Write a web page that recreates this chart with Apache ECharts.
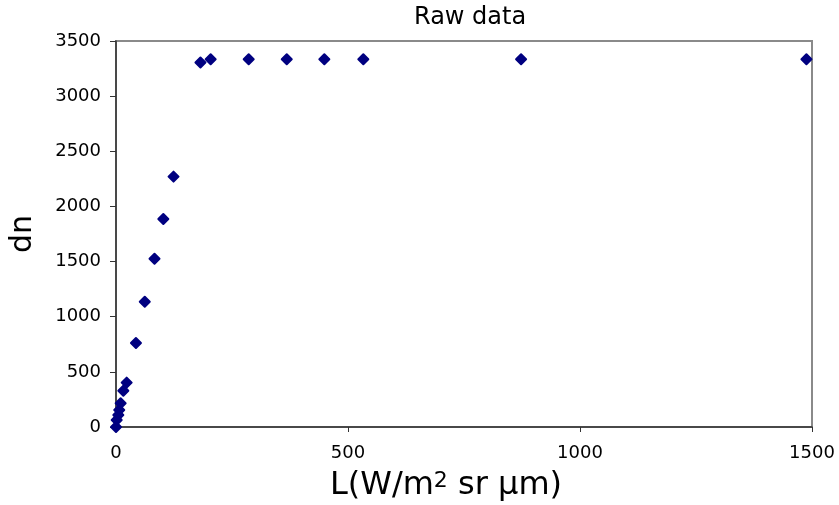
<!DOCTYPE html>
<html>
<head>
<meta charset="utf-8">
<script src="https://cdn.jsdelivr.net/npm/echarts@6/dist/echarts.min.js"></script>
<style>
  html, body { margin: 0; padding: 0; background: #fff; }
  #chart { width: 839px; height: 505px; }
</style>
</head>
<body>
<div id="chart"></div>
<script>
// Radiance (W/m^2 sr um) against raw digital number; the sensor saturates near 3330 dn.
const radiance = [0, 1.5, 5, 7, 10, 15.8, 23, 43, 62, 83, 102, 124, 182, 204, 286, 368, 449, 533, 873, 1488];
const dn = [0, 63, 109, 154, 215, 329, 402, 762, 1136, 1526, 1886, 2270, 3305, 3335, 3335, 3335, 3335, 3335, 3335, 3335];

const xTicks = { min: 0, max: 1500, interval: 500 };
const yTicks = { min: 0, max: 3500, interval: 500 };

const points = radiance.map((r, i) => [r, dn[i]]);
const plain = v => String(v);

const chart = echarts.init(document.getElementById('chart'), null, { renderer: 'canvas' });

chart.setOption({
  backgroundColor: '#ffffff',
  animation: false,
  title: {
    text: 'Raw data',
    left: 414,
    top: 6,
    padding: 0,
    textStyle: { fontFamily: 'DejaVu Sans', fontSize: 24, fontWeight: 'normal', color: '#000' }
  },
  grid: {
    left: 116, right: 27, top: 41, bottom: 78,
    outerBoundsMode: 'none',
    containLabel: false,
    show: true,
    borderColor: '#8a8a8a',
    borderWidth: 2,
    backgroundColor: '#ffffff'
  },
  xAxis: {
    type: 'value',
    min: xTicks.min, max: xTicks.max, interval: xTicks.interval,
    name: 'L(W/m{sup|2} sr μm)',
    nameLocation: 'middle',
    nameGap: 43,
    nameTextStyle: {
      fontFamily: 'DejaVu Sans', fontSize: 32, color: '#000',
      padding: [0, 36, 0, 0],
      rich: {
        sup: { fontFamily: 'DejaVu Sans', fontSize: 22, verticalAlign: 'top', color: '#000' }
      }
    },
    axisLine: { show: true, onZero: false, lineStyle: { color: '#333', width: 1.5 } },
    axisTick: { show: true, length: 5, inside: false, lineStyle: { color: '#333', width: 1 } },
    axisLabel: { margin: 17, fontFamily: 'DejaVu Sans', fontSize: 18, color: '#000', formatter: plain },
    splitLine: { show: false }
  },
  yAxis: {
    type: 'value',
    min: yTicks.min, max: yTicks.max, interval: yTicks.interval,
    name: 'dn',
    nameLocation: 'middle',
    nameGap: 78,
    nameTextStyle: { fontFamily: 'DejaVu Sans', fontSize: 30, color: '#000' },
    axisLine: { show: true, onZero: false, lineStyle: { color: '#333', width: 1.5 } },
    axisTick: { show: true, length: 6, inside: false, lineStyle: { color: '#333', width: 1 } },
    axisLabel: { margin: 15, fontFamily: 'DejaVu Sans', fontSize: 18, color: '#000', formatter: plain },
    splitLine: { show: false }
  },
  series: [{
    type: 'scatter',
    data: points,
    symbol: 'diamond',
    symbolSize: [10, 10],
    clip: false,
    itemStyle: { color: '#000080', opacity: 1, borderColor: '#000080', borderWidth: 2, borderJoin: 'round' }
  }]
});
</script>
</body>
</html>
